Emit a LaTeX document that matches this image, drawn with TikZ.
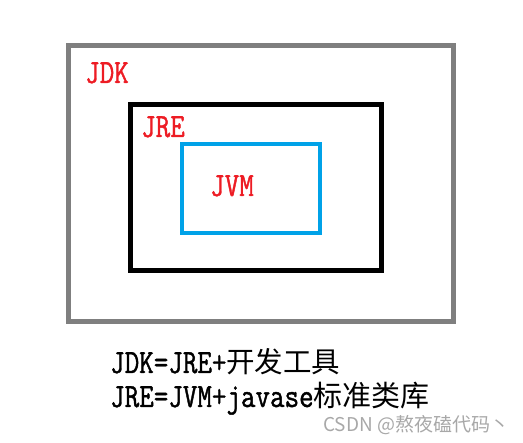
\documentclass[tikz,border=0pt]{standalone}
\usepackage{fontspec}
\newfontfamily\monofnt[FakeStretch=0.83,FakeBold=1.2]{Latin Modern Mono}
\newfontfamily\cjkfnt{Noto Sans CJK SC}
\definecolor{jdkgray}{HTML}{7F7F7F}
\definecolor{jvmblue}{HTML}{00A2E8}
\definecolor{lblred}{HTML}{ED1C24}
\definecolor{markgray}{HTML}{A8A8A8}

\begin{document}
\begin{tikzpicture}[x=1pt,y=-1pt,
    box/.style={line width=4.5pt},
    lbl/.style={anchor=base west,inner sep=0pt,text=lblred,font=\fontsize{34}{34}\monofnt},
    note/.style={anchor=base west,inner sep=0pt,font=\fontsize{34}{34}\monofnt},
]
\useasboundingbox (0,0) rectangle (523,443);
% nested boxes
\draw[box,jdkgray,line width=5pt] (68.5,45.5) rectangle (453.5,321.5);
\draw[box,black] (130.5,104.5) rectangle (381.5,270.5);
\draw[box,jvmblue] (182,144) rectangle (320,233);
% labels
\node[lbl] (jdk) at (85,83) {JDK};
\node[lbl] (jre) at (141,137) {JRE};
\node[lbl] (jvm) at (210,196) {JVM};
% notes
\node[note] (eq1) at (110,373) {JDK=JRE+{\fontsize{28.5}{29}\cjkfnt 开发工具}};
\node[note] (eq2) at (110,407) {JRE=JVM+javase{\fontsize{29}{29}\cjkfnt 标准类库}};
\node[anchor=base west,inner sep=0pt,text=markgray,font=\fontsize{19}{19}\cjkfnt] (mark) at (323,432) {CSDN @熬夜磕代码丶};
\end{tikzpicture}
\end{document}
